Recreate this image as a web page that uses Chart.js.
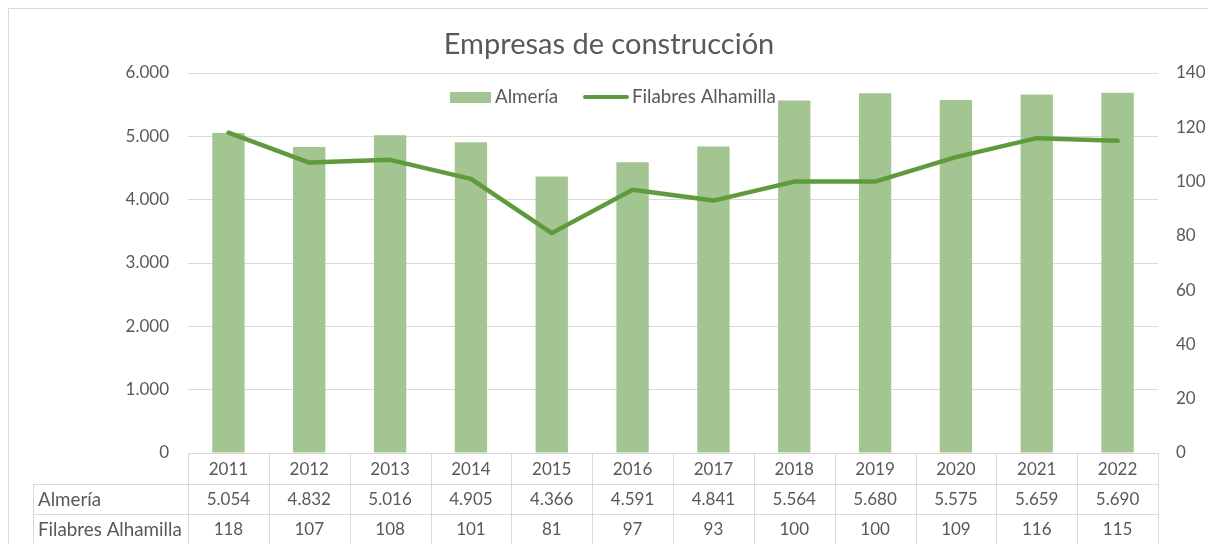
<!DOCTYPE html>
<html>
<head>
<meta charset="utf-8">
<script src="https://cdn.jsdelivr.net/npm/chart.js@4/dist/chart.umd.min.js"></script>
<style>
html,body{margin:0;padding:0;background:#fff;}
#wrap{position:relative;width:1208px;height:544px;}
</style>
</head>
<body>
<div id="wrap"><canvas id="c" width="1208" height="544"></canvas></div>
<script>
const years = ['2011','2012','2013','2014','2015','2016','2017','2018','2019','2020','2021','2022'];
const almeria = [5054, 4832, 5016, 4905, 4366, 4591, 4841, 5564, 5680, 5575, 5659, 5690];
const filabres = [118, 107, 108, 101, 81, 97, 93, 100, 100, 109, 116, 115];
const seriesNames = ['Almería', 'Filabres Alhamilla'];
const titleText = 'Empresas de construcción';

const FONT = 'Lato, "Open Sans", sans-serif';
const TXT = '#595959';
const GRID = '#d9d9d9';
const BAR = '#a2c591';
const LINE = '#5f9b3c';

function fmt(v){
  const s = Math.round(v).toString();
  return s.replace(/\B(?=(\d{3})+(?!\d))/g, '.');
}

const decor = {
  id: 'decor',
  beforeDraw(chart){
    const ctx = chart.ctx;
    ctx.save();
    ctx.fillStyle = '#fff';
    ctx.fillRect(0,0,chart.width,chart.height);
    ctx.strokeStyle = GRID;
    ctx.lineWidth = 1;
    ctx.beginPath();
    ctx.moveTo(8.5, 544); ctx.lineTo(8.5, 8.5); ctx.lineTo(1208, 8.5);
    ctx.stroke();
    ctx.restore();
  },
  afterDraw(chart){
    const ctx = chart.ctx;
    const x = chart.scales.x;
    const area = chart.chartArea;
    const n = years.length;
    const w = (area.right - area.left) / n;
    ctx.save();
    // title
    ctx.fillStyle = TXT;
    ctx.font = '29px ' + FONT;
    ctx.textAlign = 'center';
    ctx.textBaseline = 'middle';
    ctx.fillText(titleText, 609, 45);

    // legend
    ctx.font = '18.8px ' + FONT;
    ctx.textAlign = 'left';
    ctx.fillStyle = BAR;
    ctx.fillRect(450, 92, 41, 11);
    ctx.fillStyle = TXT;
    ctx.fillText(seriesNames[0], 495, 97);
    ctx.strokeStyle = LINE;
    ctx.lineWidth = 4;
    ctx.lineCap = 'round';
    ctx.beginPath(); ctx.moveTo(585, 97); ctx.lineTo(627, 97); ctx.stroke();
    ctx.fillText(seriesNames[1], 632, 97);

    // data table
    const top = area.bottom;
    const r1 = top + 31, r2 = top + 61, r3 = 545;
    const tl = 33;
    ctx.strokeStyle = GRID;
    ctx.lineWidth = 1;
    ctx.lineCap = 'butt';
    ctx.beginPath();
    ctx.moveTo(area.left, top + 0.5); ctx.lineTo(area.right, top + 0.5);
    ctx.moveTo(tl, r1 + 0.5); ctx.lineTo(area.right, r1 + 0.5);
    ctx.moveTo(tl, r2 + 0.5); ctx.lineTo(area.right, r2 + 0.5);
    ctx.moveTo(tl + 0.5, r1); ctx.lineTo(tl + 0.5, r3);
    for (let i = 0; i <= n; i++){
      const px = Math.round(area.left + i * w) + 0.5;
      ctx.moveTo(px, top); ctx.lineTo(px, r3);
    }
    ctx.stroke();

    ctx.fillStyle = TXT;
    ctx.textBaseline = 'middle';
    ctx.textAlign = 'left';
    ctx.font = '18.8px ' + FONT;
    ctx.fillText(seriesNames[0], 38, (r1 + r2) / 2 + 1);
    ctx.fillText(seriesNames[1], 38, (r2 + r3) / 2);
    ctx.font = '17px ' + FONT;
    ctx.textAlign = 'center';
    for (let i = 0; i < n; i++){
      const cx = x.getPixelForValue(i);
      ctx.fillText(years[i], cx, (top + r1) / 2 + 1);
      ctx.fillText(fmt(almeria[i]), cx, (r1 + r2) / 2 + 1);
      ctx.fillText(String(filabres[i]), cx, (r2 + r3) / 2);
    }
    ctx.restore();
  }
};

new Chart(document.getElementById('c'), {
  data: {
    labels: years,
    datasets: [
      {
        type: 'line',
        label: seriesNames[1],
        data: filabres,
        yAxisID: 'y2',
        borderColor: LINE,
        backgroundColor: LINE,
        borderWidth: 4.5,
        pointRadius: 0,
        tension: 0,
        borderCapStyle: 'round',
        borderJoinStyle: 'round',
        order: 0
      },
      {
        type: 'bar',
        label: seriesNames[0],
        data: almeria,
        yAxisID: 'y',
        backgroundColor: BAR,
        categoryPercentage: 1,
        barPercentage: 0.4,
        order: 1
      }
    ]
  },
  plugins: [decor],
  options: {
    responsive: false,
    animation: false,
    devicePixelRatio: 1,
    layout: { padding: { left: 0, right: 0, top: 73, bottom: 0 } },
    plugins: {
      legend: { display: false },
      title: { display: false },
      tooltip: { enabled: false }
    },
    scales: {
      x: {
        offset: true,
        grid: { display: false },
        border: { display: false },
        ticks: { display: false },
        afterFit(s){ s.height = 91; }
      },
      y: {
        position: 'left',
        min: 0, max: 6000,
        ticks: {
          stepSize: 1000,
          color: TXT,
          font: { family: FONT, size: 17 },
          padding: 19,
          callback: v => fmt(v)
        },
        grid: { color: GRID, drawTicks: false, lineWidth: 1 },
        border: { display: false },
        afterFit(s){ s.width = 188; }
      },
      y2: {
        position: 'right',
        min: 0, max: 140,
        ticks: {
          stepSize: 20,
          color: TXT,
          font: { family: FONT, size: 17 },
          padding: 18,
          callback: v => String(v)
        },
        grid: { display: false, drawTicks: false },
        border: { display: false },
        afterFit(s){ s.width = 50; }
      }
    }
  }
});
</script>
</body>
</html>
